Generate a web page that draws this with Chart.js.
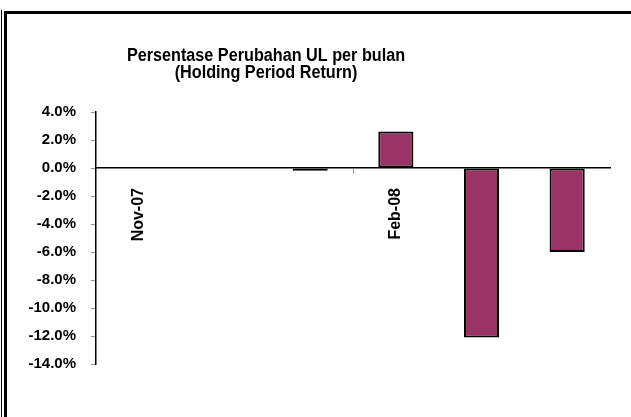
<!DOCTYPE html>
<html>
<head>
<meta charset="utf-8">
<script src="https://cdn.jsdelivr.net/npm/chart.js@4"></script>
<style>
  html, body { margin: 0; padding: 0; background: #fff; overflow: hidden; }
  #wrap { position: relative; width: 631px; height: 417px; overflow: hidden; }
  #chart { position: absolute; left: 0; top: 0; }
  .thin { position: absolute; left: 1px; top: 10px; width: 1px; height: 420px; background: #000; }
  .frame { position: absolute; left: 4px; top: 11px; width: 700px; height: 500px; border: 3px solid #000; box-sizing: border-box; pointer-events: none; }
</style>
</head>
<body>
<div id="wrap">
  <canvas id="chart" width="631" height="417"></canvas>
  <div class="thin"></div>
  <div class="frame"></div>
</div>
<script>
const months = ['Nov-07', 'Dec-07', 'Jan-08', 'Feb-08', 'Mar-08', 'Apr-08'];
const hpr = [null, null, -0.2, 2.6, -12.1, -6.0];
const titleLines = ['Persentase Perubahan UL per bulan', '(Holding Period Return)'];
const yMin = -14, yMax = 4, yStep = 2;

const FONT = "'Liberation Sans', Arial, sans-serif";

// title sits off-centre in the original, so draw it by hand
const titlePlugin = {
  id: 'offTitle',
  afterDraw(chart) {
    const ctx = chart.ctx;
    ctx.save();
    ctx.fillStyle = '#000';
    ctx.font = 'bold 18px ' + FONT;
    ctx.textAlign = 'center';
    ctx.textBaseline = 'alphabetic';
    titleLines.forEach((t, i) => {
      ctx.save();
      ctx.translate(266, 61 + i * 17);
      ctx.scale(0.9, 1);
      ctx.fillText(t, 0, 0);
      ctx.restore();
    });
    ctx.restore();
  }
};

new Chart(document.getElementById('chart'), {
  type: 'bar',
  data: {
    labels: months,
    datasets: [{
      data: hpr,
      backgroundColor: '#993366',
      borderColor: '#000',
      borderWidth: 2,
      borderSkipped: false,
      barPercentage: 0.41,
      categoryPercentage: 1
    }]
  },
  options: {
    responsive: false,
    animation: false,
    layout: { padding: { left: 10, right: 21, top: 112, bottom: 53 } },
    plugins: { legend: { display: false }, title: { display: false }, tooltip: { enabled: false } },
    scales: {
      x: {
        position: { y: 0 },
        border: { color: '#000', width: 1.5 },
        grid: {
          drawOnChartArea: false,
          tickLength: 5,
          color: c => c.index % 3 === 0 ? '#999' : 'rgba(0,0,0,0)'
        },
        ticks: {
          autoSkip: false,
          minRotation: 90,
          maxRotation: 90,
          padding: 15,
          color: '#000',
          font: { family: FONT, size: 16, weight: 'bold' },
          callback: (v, i) => i % 3 === 0 ? months[i] : ''
        }
      },
      y: {
        min: yMin,
        max: yMax,
        afterFit: s => { s.width = 86; },
        border: { color: '#000', width: 1.5 },
        grid: { drawOnChartArea: false, tickLength: 5, color: '#999' },
        ticks: {
          stepSize: yStep,
          padding: 15,
          color: '#000',
          font: { family: FONT, size: 15, weight: 'bold' },
          callback: v => v.toFixed(1) + '%'
        }
      }
    }
  },
  plugins: [titlePlugin]
});
</script>
</body>
</html>
